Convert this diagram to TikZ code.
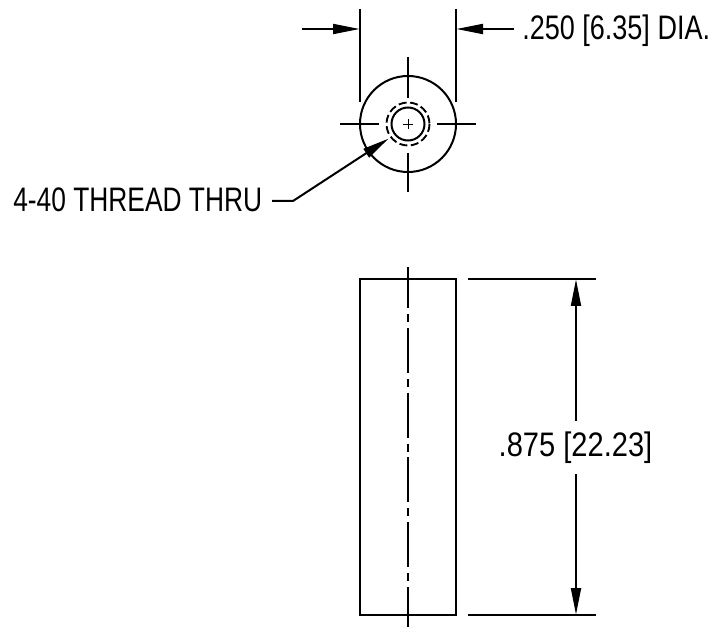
\documentclass[tikz,border=0pt]{standalone}
\usepackage{fontspec}
\setmainfont[FakeStretch=0.775]{Liberation Sans}
\newfontfamily\diafont[FakeStretch=0.795]{Liberation Sans}
\newfontfamily\lenfont[FakeStretch=0.855]{Liberation Sans}
\usetikzlibrary{arrows.meta}
\tikzset{
  ln/.style={line width=1.5pt},
  thin line/.style={line width=0.6pt},
  tip/.style={-{Triangle[length=20pt,width=7.5pt]}, line width=1.5pt, shorten >=-0.5pt},
  lbl/.style={inner sep=0pt, font=\fontsize{25.5}{30}\selectfont, text=black}
}
\begin{document}
\begin{tikzpicture}[x=0.75pt,y=-0.75pt]
\useasboundingbox (0,0) rectangle (721,627);
% top view
\coordinate (c) at (408,124);
\draw[ln] (c) circle[radius=48];
\draw[ln] (c) circle[radius=16.5];
\draw[line width=1.4pt, dash pattern=on 6pt off 2.6pt] (c) circle[radius=21.5];
\draw[thin line] (403,124) -- (413,124) (408,119) -- (408,129);
\coordinate (ct) at (408,57); \coordinate (ctb) at (408,98);
\coordinate (cb) at (408,192); \coordinate (cbt) at (408,153);
\coordinate (cl) at (340,124); \coordinate (clr) at (379,124);
\coordinate (cr) at (476,124); \coordinate (crl) at (437,124);
\draw[ln] (ct) -- (ctb) (cbt) -- (cb) (cl) -- (clr) (crl) -- (cr);
% width dimension
\coordinate (e1t) at (360,9); \coordinate (e1b) at (360,102);
\coordinate (e2t) at (456,9); \coordinate (e2b) at (456,102);
\draw[ln] (e1t) -- (e1b) (e2t) -- (e2b);
\coordinate (a1s) at (302,29); \coordinate (a1e) at (359,29);
\coordinate (a2s) at (514,29); \coordinate (a2e) at (457,29);
\draw[tip] (a1s) -- (a1e);
\draw[tip] (a2s) -- (a2e);
\node[lbl, anchor=base west] (dia) at (522,39.5) {\diafont .250 [6.35] DIA.};
% leader
\node[lbl, anchor=base west] (thr) at (13,212) {4-40 THREAD THRU};
\coordinate (l1) at (272,201); \coordinate (l2) at (293,201); \coordinate (l3) at (388,139);
\draw[tip, line join=round] (l1) -- (l2) -- (l3);
% side view
\node[draw, line width=1.5pt, outer sep=0pt, minimum width=72pt, minimum height=252pt, inner sep=0pt, anchor=north west] (body) at (360,279) {};
\coordinate (clt) at (408,267); \coordinate (clb) at (408,627);
\draw[line width=1.5pt, dash pattern=on 33.75pt off 4.5pt on 6pt off 4.3pt, dash phase=2.8pt] (clt) -- (clb);
\coordinate (x1a) at (468,279); \coordinate (x1b) at (596,279);
\coordinate (x2a) at (468,615); \coordinate (x2b) at (596,615);
\draw[ln] (x1a) -- (x1b) (x2a) -- (x2b);
\node[lbl, anchor=base] (len) at (575.5,456) {\lenfont .875 [22.23]};
\coordinate (d1) at (576,421); \coordinate (d1e) at (576,280);
\coordinate (d2) at (576,474); \coordinate (d2e) at (576,614);
\draw[tip] (d1) -- (d1e);
\draw[tip] (d2) -- (d2e);
\end{tikzpicture}
\end{document}
